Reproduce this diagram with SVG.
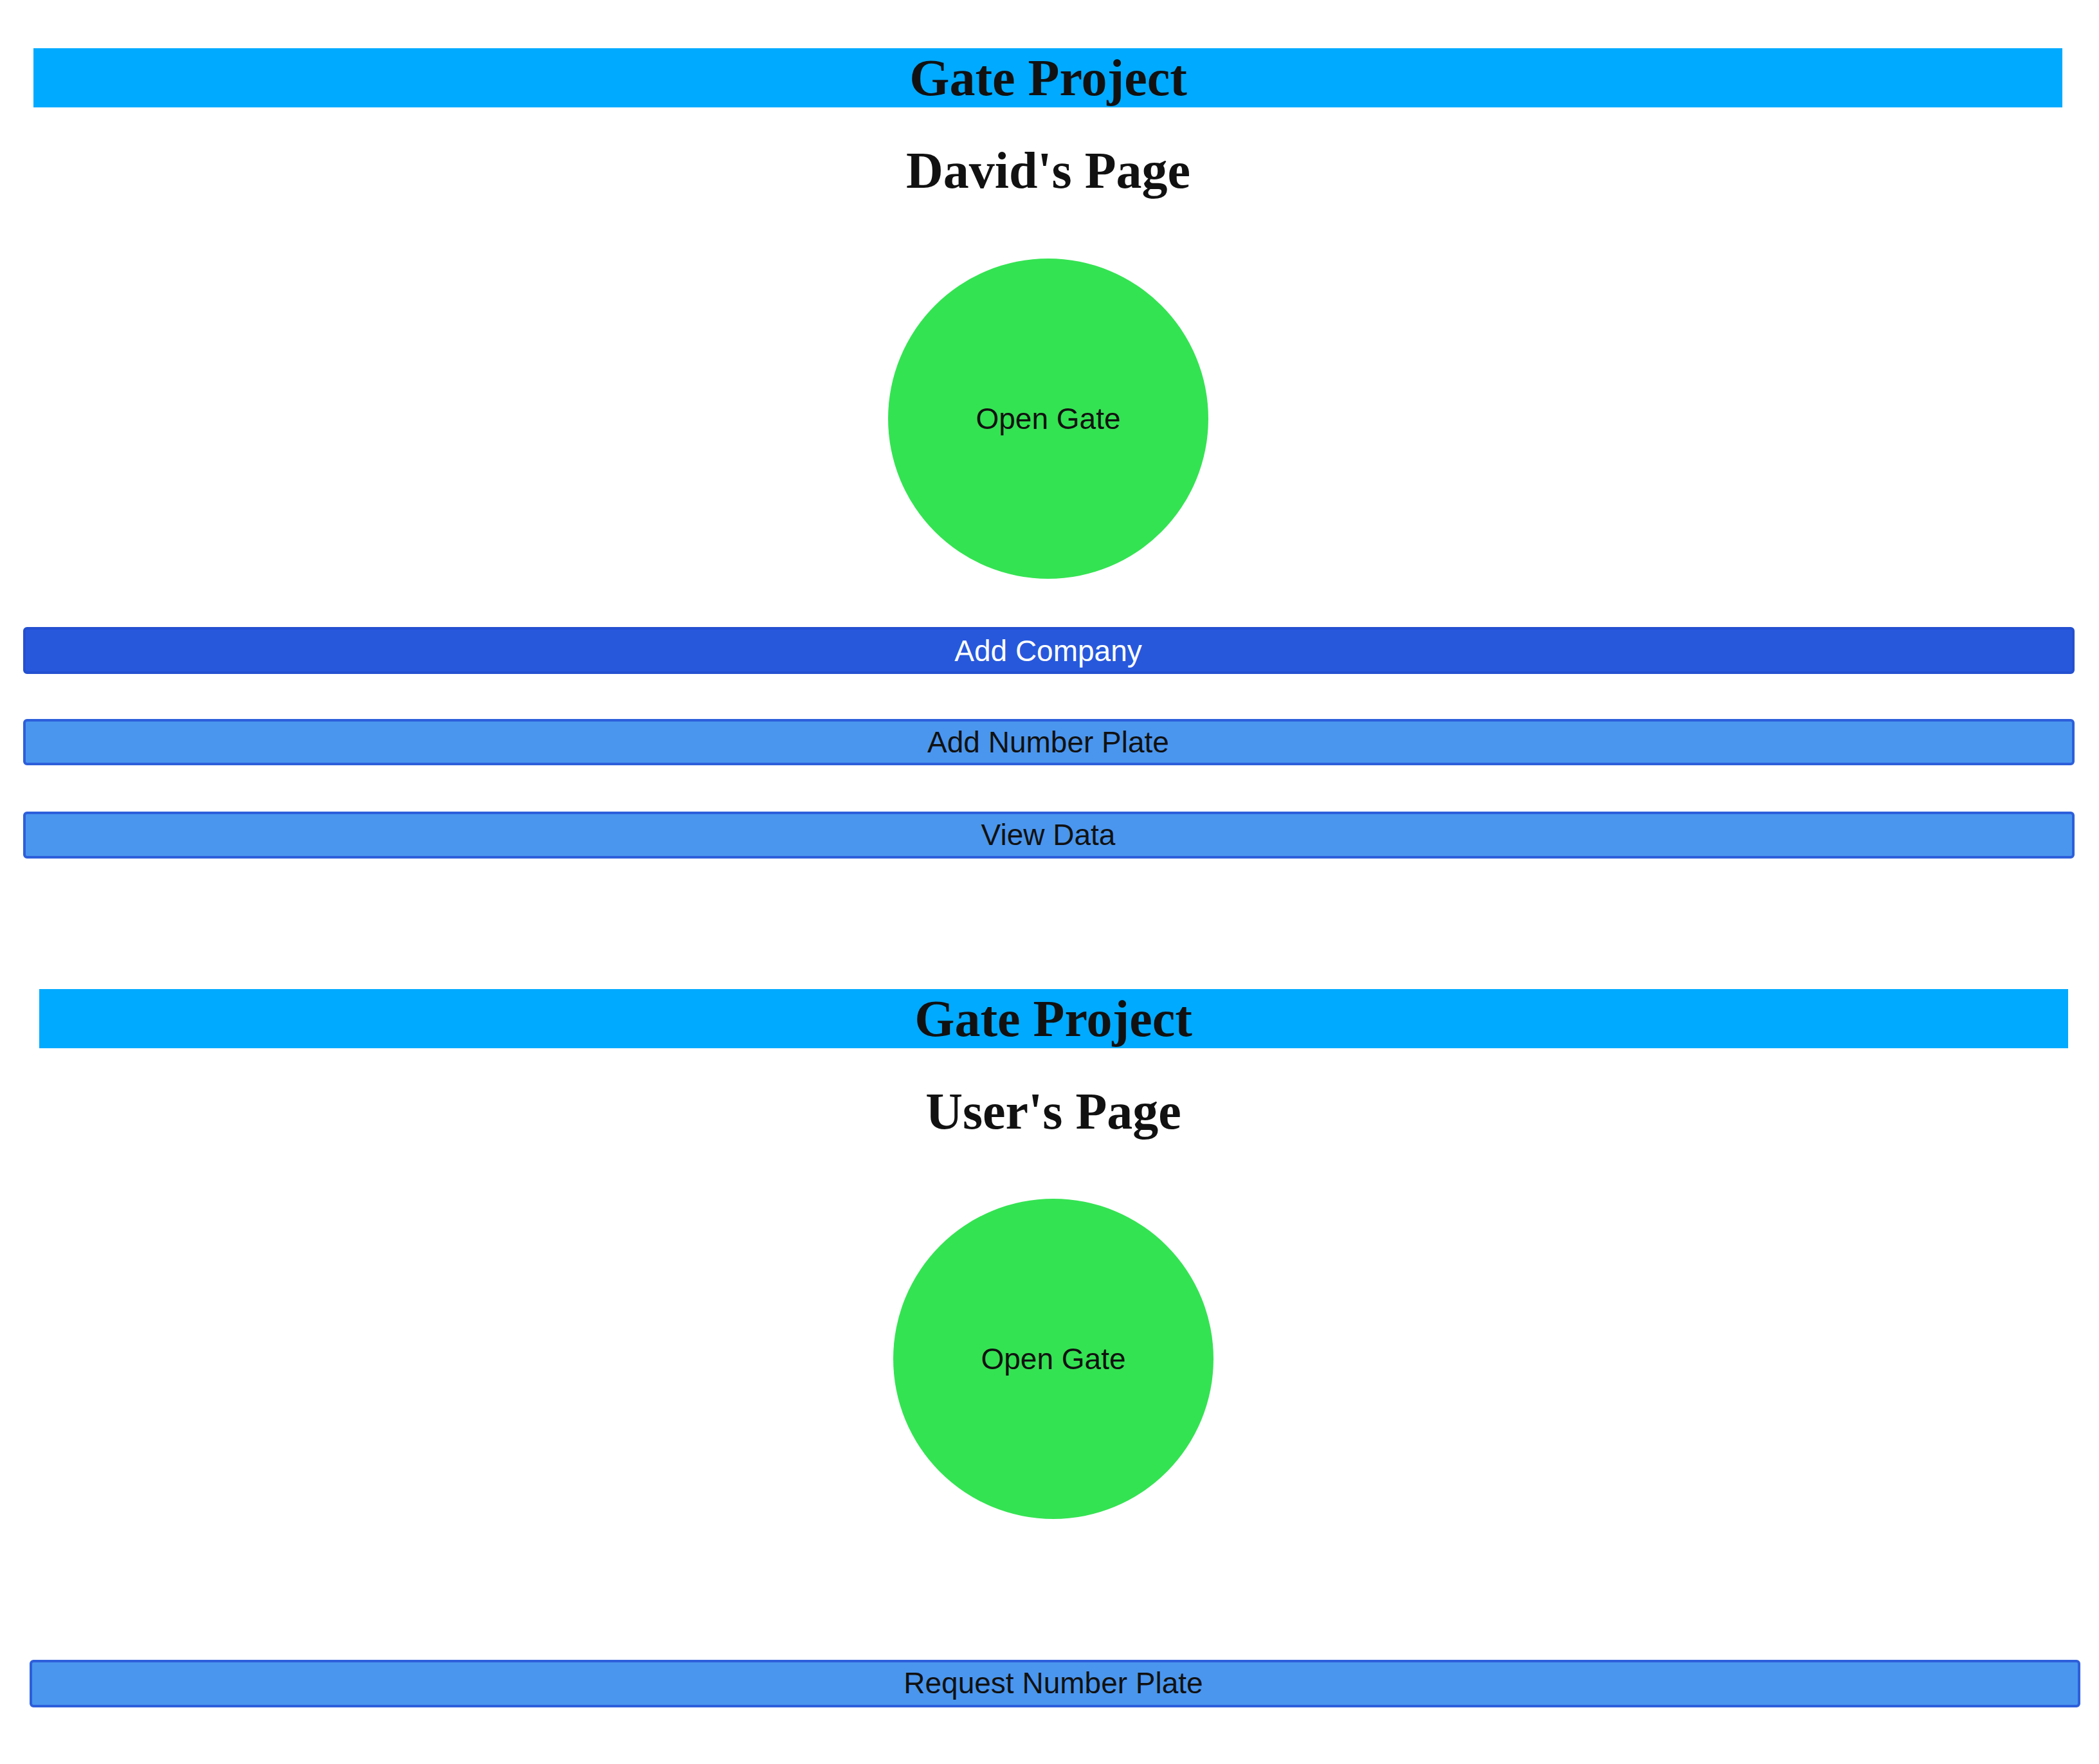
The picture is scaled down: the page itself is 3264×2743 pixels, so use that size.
<svg xmlns="http://www.w3.org/2000/svg" width="3264" height="2743" viewBox="0 0 3264 2743">
<style>
.banner{fill:#00AAFF}
.title{font-family:"Liberation Serif",serif;font-weight:bold;font-size:80px;fill:#111;text-anchor:middle}
.circ{fill:#34E352}
.btn{fill:#4A96EE;stroke:#2D5FDB;stroke-width:4}
.btnd{fill:#2758DC;stroke:#2450D0;stroke-width:4}
.lbl{font-family:"Liberation Sans",Arial,sans-serif;font-size:46px;fill:#111;text-anchor:middle}
</style>
<rect width="3264" height="2743" fill="#fff"/>
<g id="banner1"><rect class="banner" x="52" y="75" width="3155" height="92"/><text class="title" x="1630" y="148">Gate Project</text></g>
<g id="davids-page"><text class="title" x="1630" y="292">David's Page</text></g>
<g id="open-gate-1"><circle class="circ" cx="1630" cy="651" r="249"/><text class="lbl" x="1630" y="667">Open Gate</text></g>
<g id="add-company"><rect class="btnd" x="38" y="977" width="3186" height="69" rx="4"/><text class="lbl" x="1630" y="1028" fill="#fff" style="fill:#fff">Add Company</text></g>
<g id="add-number-plate"><rect class="btn" x="38" y="1120" width="3186" height="68" rx="4"/><text class="lbl" x="1630" y="1170">Add Number Plate</text></g>
<g id="view-data"><rect class="btn" x="38" y="1264" width="3186" height="69" rx="4"/><text class="lbl" x="1630" y="1314">View Data</text></g>
<g id="banner2"><rect class="banner" x="61" y="1538" width="3155" height="92"/><text class="title" x="1638" y="1611">Gate Project</text></g>
<g id="users-page"><text class="title" x="1638" y="1755">User's Page</text></g>
<g id="open-gate-2"><circle class="circ" cx="1638" cy="2113" r="249"/><text class="lbl" x="1638" y="2129">Open Gate</text></g>
<g id="request-number-plate"><rect class="btn" x="48" y="2583" width="3185" height="70" rx="4"/><text class="lbl" x="1638" y="2633">Request Number Plate</text></g>
<g id="connectors"></g>
</svg>
